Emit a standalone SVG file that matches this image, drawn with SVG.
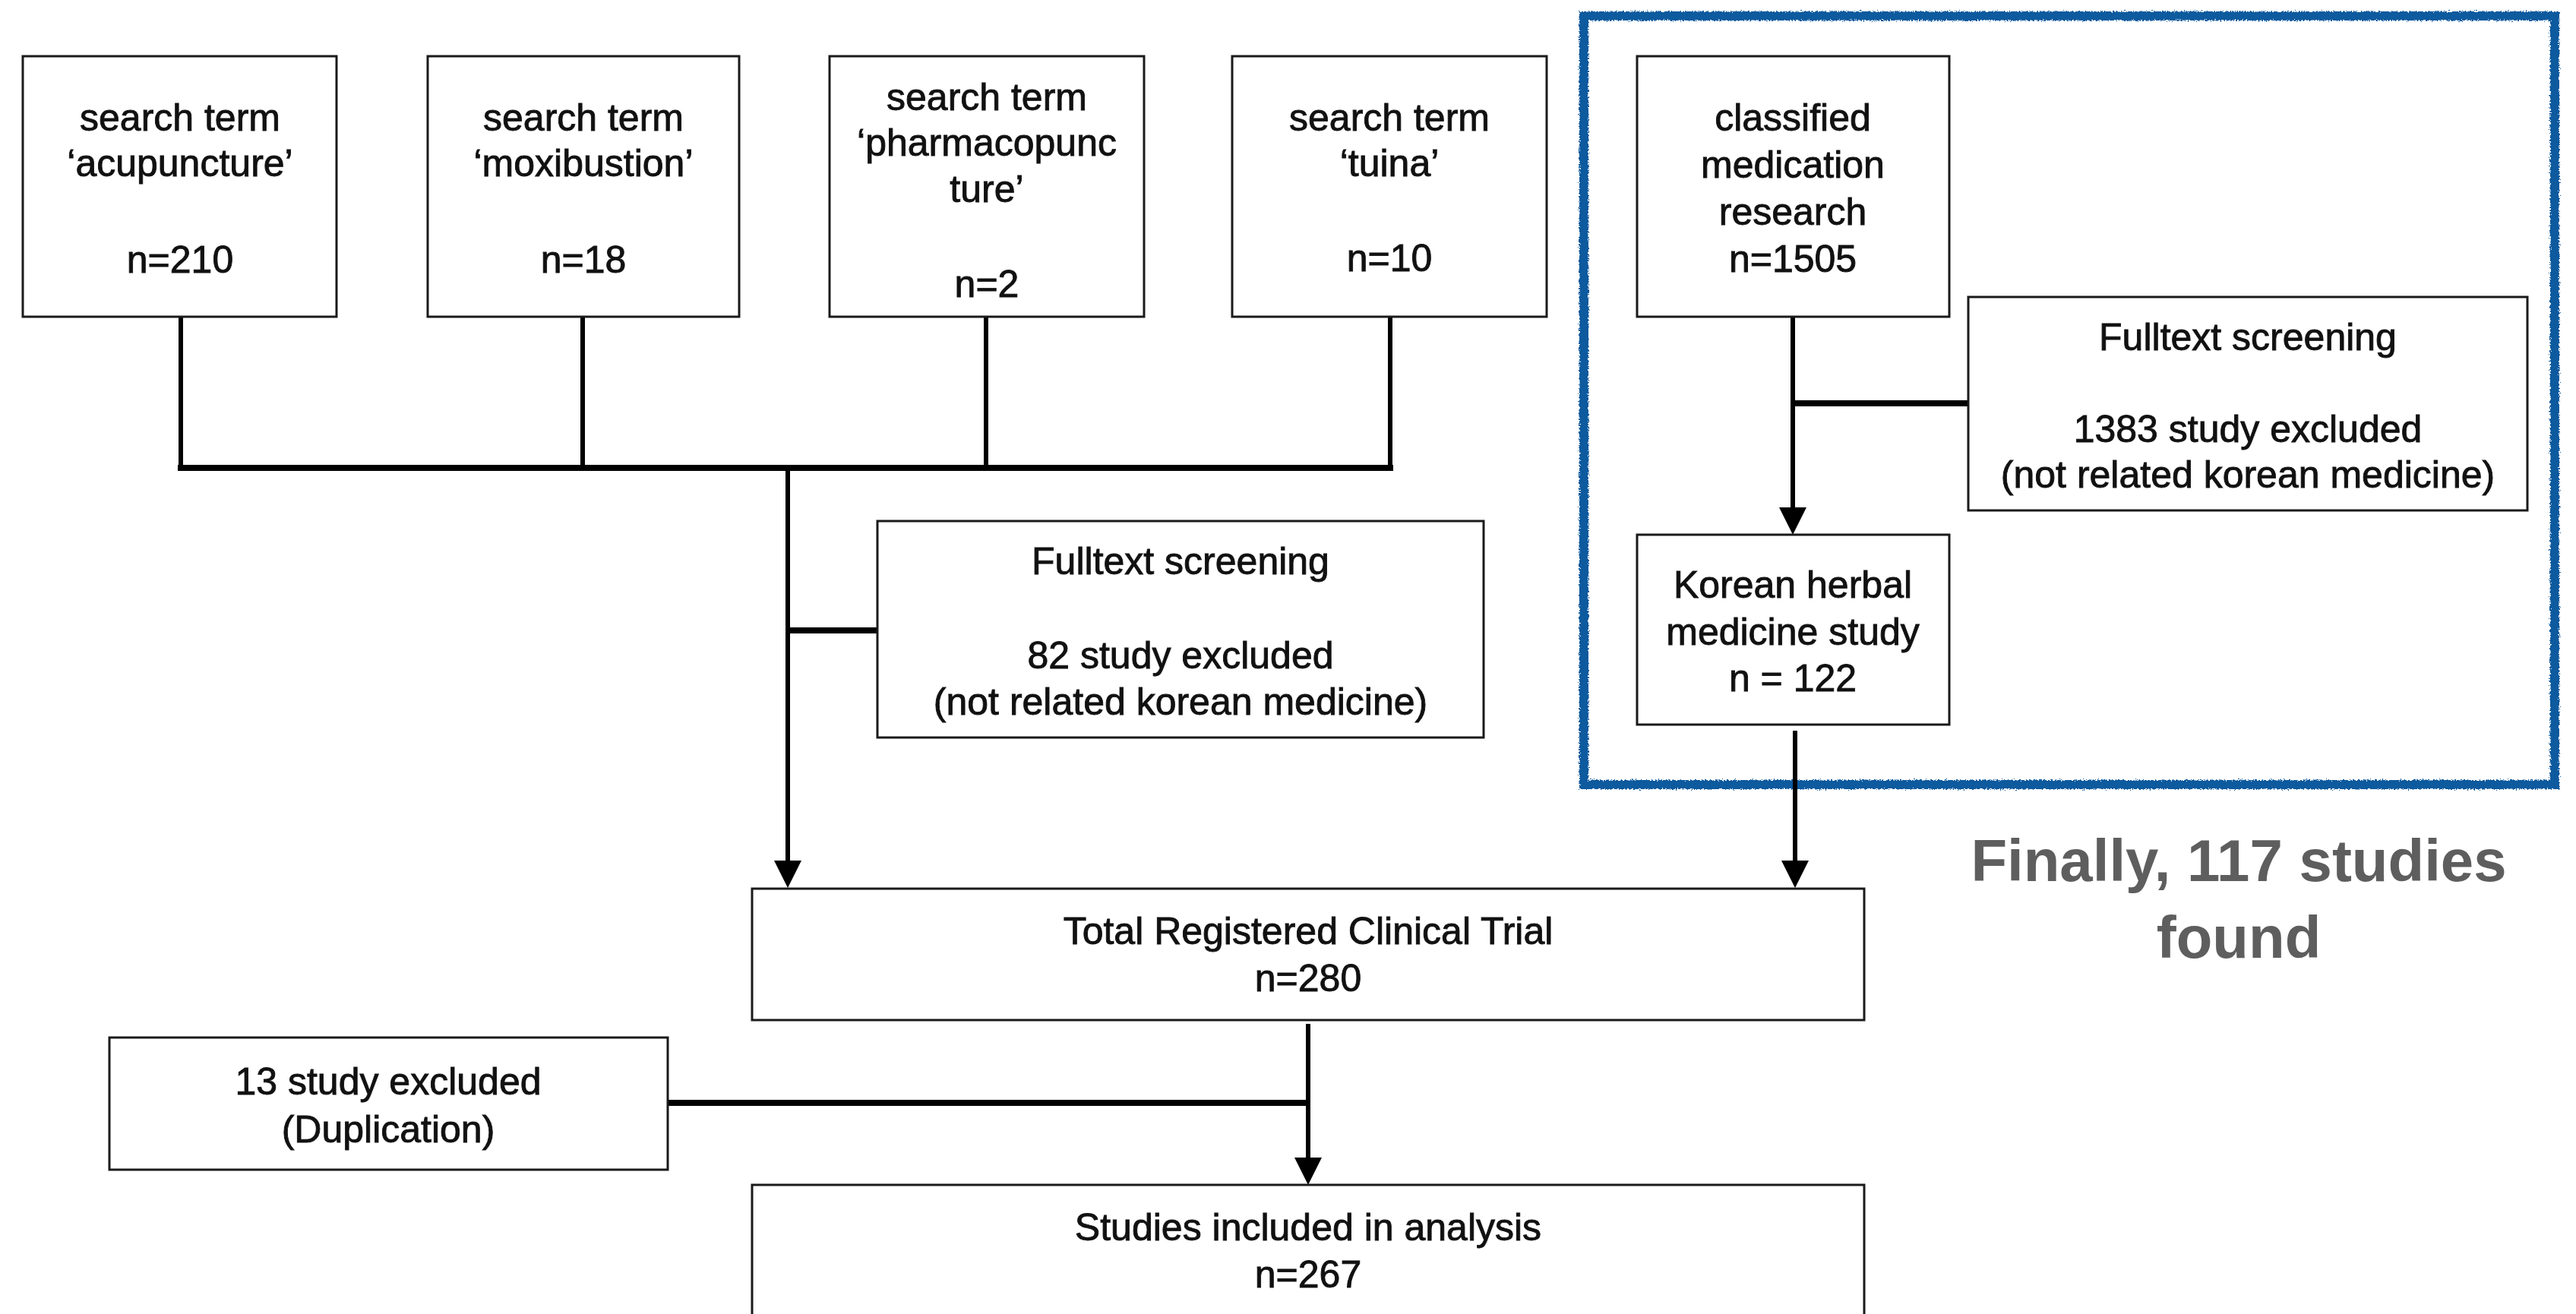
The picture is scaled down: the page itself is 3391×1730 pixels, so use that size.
<svg xmlns="http://www.w3.org/2000/svg" width="3391" height="1730" viewBox="0 0 3391 1730">
<style>
.box{fill:#fff;stroke:#1a1a1a;stroke-width:3}
.t{font-family:"Liberation Sans",Arial,Helvetica,sans-serif;font-size:50px;fill:#111;stroke:#111;stroke-width:0.9;text-anchor:middle}
.c{fill:none;stroke:#000;stroke-width:6}
.h{fill:none;stroke:#000;stroke-width:8}
.note{font-family:"Liberation Sans",Arial,Helvetica,sans-serif;font-size:78px;font-weight:bold;fill:#5e5e5e;text-anchor:middle}
</style>
<defs>
<marker id="arr" markerUnits="userSpaceOnUse" markerWidth="36" markerHeight="36" viewBox="0 0 36 36" refX="28" refY="18" orient="auto">
<path d="M0,0 L36,18 L0,36 z" fill="#000"/>
</marker>
<filter id="rough" x="-5%" y="-5%" width="110%" height="110%">
<feTurbulence type="fractalNoise" baseFrequency="0.6" numOctaves="2" seed="3" result="n"/>
<feDisplacementMap in="SourceGraphic" in2="n" scale="6" xChannelSelector="R" yChannelSelector="G"/>
</filter>
</defs>
<rect width="3391" height="1730" fill="#fff"/>

<g id="highlight">
<rect x="2085" y="21" width="1278" height="1012" fill="none" stroke="#0b5a9e" stroke-width="12" filter="url(#rough)"/>
</g>

<g id="connectors">
<path class="c" d="M238,417 V616"/>
<path class="c" d="M767,417 V616"/>
<path class="c" d="M1298,417 V616"/>
<path class="c" d="M1830,417 V616"/>
<path class="h" d="M234,616 H1834"/>
<path class="c" d="M1037,616 V1161" marker-end="url(#arr)"/>
<path class="h" d="M1037,830 H1155"/>
<path class="c" d="M2360,417 V696" marker-end="url(#arr)"/>
<path class="h" d="M2360,531 H2591"/>
<path class="c" d="M2363,962 V1161" marker-end="url(#arr)"/>
<path class="c" d="M1722,1348 V1552" marker-end="url(#arr)"/>
<path class="h" d="M879,1452 H1722"/>
</g>

<g id="n1">
<rect class="box" x="30" y="74" width="413" height="343"/>
<text class="t" x="237" y="172">search term</text>
<text class="t" x="237" y="232">‘acupuncture’</text>
<text class="t" x="237" y="359">n=210</text>
</g>
<g id="n2">
<rect class="box" x="563" y="74" width="410" height="343"/>
<text class="t" x="768" y="172">search term</text>
<text class="t" x="768" y="232">‘moxibustion’</text>
<text class="t" x="768" y="359">n=18</text>
</g>
<g id="n3">
<rect class="box" x="1092" y="74" width="414" height="343"/>
<text class="t" x="1299" y="145">search term</text>
<text class="t" x="1299" y="205">‘pharmacopunc</text>
<text class="t" x="1299" y="266">ture’</text>
<text class="t" x="1299" y="391">n=2</text>
</g>
<g id="n4">
<rect class="box" x="1622" y="74" width="414" height="343"/>
<text class="t" x="1829" y="172">search term</text>
<text class="t" x="1829" y="232">‘tuina’</text>
<text class="t" x="1829" y="357">n=10</text>
</g>
<g id="n5">
<rect class="box" x="2155" y="74" width="411" height="343"/>
<text class="t" x="2360" y="172">classified</text>
<text class="t" x="2360" y="234">medication</text>
<text class="t" x="2360" y="296">research</text>
<text class="t" x="2360" y="358">n=1505</text>
</g>
<g id="n6">
<rect class="box" x="2591" y="391" width="736" height="281"/>
<text class="t" x="2959" y="461">Fulltext screening</text>
<text class="t" x="2959" y="582">1383 study excluded</text>
<text class="t" x="2959" y="642">(not related korean medicine)</text>
</g>
<g id="n7">
<rect class="box" x="2155" y="704" width="411" height="250"/>
<text class="t" x="2360" y="787">Korean herbal</text>
<text class="t" x="2360" y="849">medicine study</text>
<text class="t" x="2360" y="910">n = 122</text>
</g>
<g id="n8">
<rect class="box" x="1155" y="686" width="798" height="285"/>
<text class="t" x="1554" y="756">Fulltext screening</text>
<text class="t" x="1554" y="880">82 study excluded</text>
<text class="t" x="1554" y="941">(not related korean medicine)</text>
</g>
<g id="n9">
<rect class="box" x="990" y="1170" width="1464" height="173"/>
<text class="t" x="1722" y="1243">Total Registered Clinical Trial</text>
<text class="t" x="1722" y="1305">n=280</text>
</g>
<g id="n10">
<rect class="box" x="144" y="1366" width="735" height="174"/>
<text class="t" x="511" y="1441">13 study excluded</text>
<text class="t" x="511" y="1504">(Duplication)</text>
</g>
<g id="n11">
<rect class="box" x="990" y="1560" width="1464" height="190"/>
<text class="t" x="1722" y="1633">Studies included in analysis</text>
<text class="t" x="1722" y="1695">n=267</text>
</g>
<g id="note">
<text class="note" x="2947" y="1160">Finally, 117 studies</text>
<text class="note" x="2947" y="1261">found</text>
</g>
</svg>
